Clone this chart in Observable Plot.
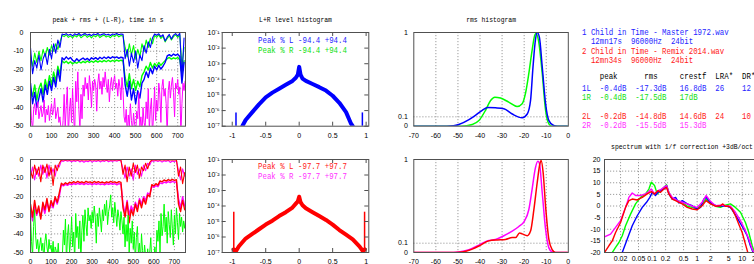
<!DOCTYPE html>
<html><head><meta charset="utf-8">
<script src="https://cdn.jsdelivr.net/npm/d3@7"></script>
<script src="https://cdn.jsdelivr.net/npm/@observablehq/plot@0.6"></script>
<style>
body{margin:0;background:#fff}
#chart{position:relative;width:754px;height:264px;overflow:hidden;background:#fff}
.p{position:absolute}
.txt{position:absolute;white-space:pre;font-family:"Liberation Mono",monospace;font-size:8.6px;line-height:10px;transform:scaleX(0.862);transform-origin:0 50%}
</style></head><body><div id="chart"></div>
<script>
// ---------- data ----------
const STEP = 10;      // seconds between peak / rms samples
const STEP_DIFF = 5;  // seconds between L-R samples
const timeTicksX = [0,100,200,300,400,500,600,700];
const timeTicksY = [0,-10,-20,-30,-40,-50];
const titles = ["peak + rms + (L-R), time in s","L+R level histogram","rms histogram","spectrum with 1/f correction +3dB/oct"];
const durations = [737, 754];

// file 1 (t = 0..730 s)
const peak1L = [-8,-22,-15,-19,-12,-20,-14,-11,-17,-9, -14,-6,-11,-4,-8,-0.8,-1.2,-0.6,-1.5,-0.9, -1.8,-0.7,-1.3,-0.5,-1.6,-1.0,-0.6,-1.4,-0.9,-1.7, -0.8,-1.2,-0.5,-1.5,-1.0,-0.7,-1.3,-0.9,-1.6,-0.8, -1.1,-0.5,-1.2,-0.8,-1.0,-14,-9,-18,-11,-16, -10,-19,-12,-15,-7,-11,-5,-8,-3,-0.8, -1.5,-0.7,-2.2,-1.2,-4.5,-2.5,-1.0,-3.5,-1.4,-0.6, -1.8,-0.5,-24,-3];
const peak1R = [-12,-18,-11,-16,-10,-15,-9,-13,-8,-12, -7,-10,-6,-9,-5,-1.5,-2.2,-1.2,-2.6,-1.8, -2.9,-1.5,-2.4,-1.2,-2.8,-1.9,-1.3,-2.6,-1.7,-2.9, -1.6,-2.3,-1.2,-2.7,-1.9,-1.4,-2.4,-1.8,-2.8,-1.5, -2.2,-1.1,-2.3,-1.6,-1.9,-8,-13,-6,-12,-7, -14,-9,-13,-6,-10,-4,-8,-3,-6,-1.5, -2.6,-1.3,-3.2,-2.0,-5.0,-3.2,-1.8,-4.0,-2.2,-1.3, -2.6,-1.4,-18,-8];
const rms1L = [-27,-38,-32,-40,-35,-30,-37,-28,-33,-26, -31,-24,-29,-20,-26,-13.5,-14.5,-13.0,-14.2,-13.3, -14.8,-15.5,-14.0,-15.2,-14.3,-13.6,-14.6,-13.8,-14.9,-13.5, -14.2,-13.4,-14.4,-13.2,-14.0,-13.1,-13.9,-13.0,-13.8,-12.9, -13.6,-13.0,-13.8,-13.2,-13.5,-28,-34,-26,-36,-30, -38,-31,-35,-27,-25,-21,-24,-19,-22,-18, -20,-17.5,-19.5,-18,-16,-12.5,-11.8,-12.6,-11.5,-12.2, -11.6,-12.8,-27,-16];
const rms1R = [-30,-34,-28,-36,-30,-27,-33,-25,-30,-23, -28,-21,-26,-18,-22,-15.0,-16.2,-15.3,-16.5,-15.6, -16.8,-15.9,-16.4,-15.5,-16.3,-15.4,-16.1,-15.2,-16.0,-15.3, -15.9,-15.0,-15.8,-15.1,-15.7,-14.9,-15.6,-14.8,-15.5,-14.9, -15.4,-14.7,-15.3,-14.8,-15.2,-24,-29,-22,-30,-25, -31,-26,-29,-23,-21,-18,-20,-16,-19,-16.5, -18,-16,-17.5,-16.2,-15,-14,-13.3,-14.2,-13.5,-14.0, -13.4,-14.5,-22,-15];
const diff1 = [-36,-47,-52,-41,-38,-44,-40,-37,-46,-42, -39,-45,-43,-36,-48,-41,-44,-39,-47,-42, -38,-44,-41,-35,-46,-43,-40,-48,-45,-52, -55,-47,-33,-51,-39,-29,-55,-42,-35,-48, -30,-44,-55,-26,-37,-21,-41,-52,-33,-46, -28,-34,-24,-30,-27,-36,-23,-29,-40,-26, -31,-25,-28,-42,-27,-22,-30,-26,-33,-24, -29,-21,-27,-32,-25,-37,-28,-24,-31,-26, -23,-30,-27,-34,-25,-29,-36,-24,-31,-45, -48,-41,-55,-44,-50,-38,-47,-53,-43,-49, -55,-42,-46,-32,-50,-45,-55,-40,-48,-51, -37,-46,-30,-52,-41,-35,-55,-44,-29,-47, -36,-42,-27,-33,-48,-29,-25,-34,-30,-38, -55,-31,-26,-35,-28,-24,-32,-45,-27,-30, -25,-33,-29,-55,-38,-27,-31,-26];

// file 2 (t = 0..750 s)
const peak2L = [-6,-10,-3,-8,-4,-12,-3,-7,-2.5,-9, -4,-14,-3,-6,-2,-0.2,-0.2,-0.2,-0.2,-0.2, -0.2,-0.2,-0.2,-0.2,-0.2,-0.2,-0.2,-0.2,-0.2,-0.2, -0.2,-0.2,-0.2,-0.2,-0.2,-0.2,-0.2,-0.2,-0.2,-0.2, -0.2,-0.2,-0.2,-0.2,-0.2,-8,-3,-12,-4,-9, -2,-7,-3,-10,-4,-6,-2,-5,-1.5,-0.2, -0.2,-0.2,-0.2,-0.2,-0.2,-0.2,-0.2,-0.2,-0.2,-0.2, -0.2,-0.2,-9,-4,-13,-7];
const peak2R = [-9,-4,-11,-5,-9,-3,-8,-4,-10,-3, -8,-5,-9,-3,-4,-0.6,-1.0,-0.4,-0.9,-0.5, -1.2,-0.6,-1.0,-0.4,-1.3,-0.7,-1.5,-0.8,-1.2,-0.5, -1.4,-0.7,-1.1,-0.5,-1.3,-0.6,-1.0,-0.4,-1.2,-0.6, -1.0,-0.5,-0.9,-0.4,-0.8,-5,-10,-4,-9,-5, -11,-3,-8,-5,-9,-3,-6,-2,-3,-0.6, -1.0,-0.5,-1.1,-0.6,-1.4,-0.7,-1.0,-0.5,-1.6,-0.8, -1.2,-0.6,-6,-11,-5,-9];
const rms2L = [-24,-31,-22,-29,-25,-32,-23,-27,-21,-28, -22,-25,-20,-23,-18,-12.8,-13.6,-12.5,-13.2,-12.2, -12.7,-11.9,-12.5,-11.8,-12.4,-12.0,-12.6,-11.7,-12.3,-12.0, -12.6,-11.8,-12.4,-11.9,-12.5,-12.1,-12.7,-12.0,-12.4,-11.8, -12.3,-12.0,-12.6,-11.9,-12.3,-26,-31,-23,-34,-27, -30,-24,-28,-22,-26,-21,-24,-19,-20,-13.5, -14.2,-13.0,-13.8,-11.5,-12.0,-11.0,-11.6,-10.8,-11.4,-10.7, -11.2,-10.9,-24,-28,-22,-27];
const rms2R = [-27,-33,-25,-30,-27,-31,-25,-29,-23,-27, -24,-26,-21,-24,-20,-13.5,-14.2,-13.4,-13.9,-13.1, -13.6,-12.9,-13.4,-12.8,-13.3,-12.9,-13.5,-12.8,-13.4,-13.0, -13.6,-12.9,-13.4,-12.9,-13.5,-13.1,-13.6,-13.0,-13.4,-12.9, -13.3,-13.0,-13.6,-13.0,-13.3,-24,-29,-22,-30,-25, -28,-23,-26,-21,-24,-20,-22,-18,-19,-14.5, -15.0,-14.0,-14.6,-12.6,-13.0,-12.2,-12.6,-11.9,-12.4,-11.8, -12.2,-12.0,-21,-26,-20,-25];
const diff2 = [-30,-44,-52,-36,-27,-41,-48,-43,-50,-46, -42,-49,-45,-55,-44,-40,-47,-51,-43,-48, -46,-52,-44,-55,-47,-49,-53,-45,-55,-55, -55,-52,-38,-46,-32,-55,-41,-35,-50,-44, -31,-47,-39,-55,-29,-42,-36,-48,-33,-55, -38,-30,-44,-27,-35,-41,-26,-33,-30,-37, -28,-34,-25,-31,-45,-29,-36,-26,-32,-39, -27,-33,-24,-30,-22,-35,-28,-25,-19,-31, -26,-34,-23,-29,-36,-27,-31,-38,-28,-33, -40,-31,-47,-35,-44,-30,-50,-37,-45,-33, -48,-39,-55,-42,-36,-51,-45,-55,-40,-49, -55,-46,-52,-55,-48,-55,-50,-42,-55,-53, -55,-47,-55,-38,-44,-33,-50,-29,-41,-36, -24,-39,-31,-45,-28,-35,-42,-27,-37,-46, -30,-40,-26,-34,-43,-29,-36,-31,-39,-33, -37,-32];

// L+R level histogram (sample value, log10 of share)
const histTicksX = [-1,-0.5,0,0.5,1];
const histDecades = [-1,-2,-3,-4,-5,-6,-7];
const histX1 = [-0.85,-0.8,-0.7,-0.6,-0.5,-0.4,-0.3,-0.2,-0.1,-0.05,-0.02,0,0.02,0.05,0.1,0.2,0.3,0.4,0.5,0.6,0.7,0.77,0.8];
const histE1 = [-7,-6.6,-6.1,-5.6,-5.15,-4.85,-4.6,-4.35,-4.1,-3.9,-3.7,-3.2,-3.7,-3.95,-4.1,-4.3,-4.5,-4.72,-5.05,-5.5,-6.1,-6.8,-7];
const histX2 = [-0.98,-0.95,-0.9,-0.8,-0.7,-0.6,-0.5,-0.4,-0.3,-0.2,-0.1,-0.05,-0.02,0,0.02,0.05,0.1,0.2,0.3,0.4,0.5,0.6,0.7,0.8,0.9,0.95,0.98];
const histE2 = [-6.8,-6.95,-6.6,-6.1,-5.8,-5.5,-5.2,-4.95,-4.65,-4.4,-4.1,-3.85,-3.7,-3.4,-3.75,-3.95,-4.15,-4.4,-4.65,-4.9,-5.2,-5.55,-5.85,-6.15,-6.6,-6.9,-6.8];
const peakPos1 = [-0.944, 0.944], peakLevel1 = -6.15;
const peakPos2 = [-0.977, 0.977], peakLevel2 = -4.4;
const histLabels1 = [["L",-94.4,94.4],["R",-94.4,94.4]];
const histLabels2 = [["L",-97.7,97.7],["R",-97.7,97.7]];

// rms histogram
const rmsTicksX = [-70,-60,-50,-40,-30,-20,-10,0];
const rmsTicksY = [0,0.1,1];
const rmsX1L = [-70,-55,-52,-49.6,-45,-42.4,-39,-36.5,-33,-29.2,-25.4,-20.9,-18.6,-17.1,-16,-14.9,-14.1,-13.1,-11.8,-10.3,-8.8,-6.6,-5,0];
const rmsY1L = [0,0,0.004,0.018,0.07,0.11,0.17,0.2,0.196,0.186,0.13,0.09,0.13,0.275,0.63,0.92,1.0,0.95,0.63,0.24,0.06,0.007,0,0];
const rmsX1R = [-70,-48.6,-43.5,-40.5,-37.5,-35.2,-33.3,-30.7,-27,-23.2,-20.9,-19.4,-17.9,-16.4,-15.2,-14.6,-13.4,-11.8,-10.3,-8.8,-7.3,0];
const rmsY1R = [0,0,0.018,0.06,0.17,0.275,0.31,0.30,0.257,0.21,0.24,0.35,0.56,0.81,0.97,0.99,0.9,0.56,0.17,0.025,0,0];
const rmsX2L = [-70,-51,-48.1,-43.5,-39.7,-36,-32.2,-28.5,-25.4,-23.9,-22.1,-20.9,-18.6,-17.1,-15.6,-14.1,-12.9,-12.3,-11.4,-10.3,-8.8,-7.3,-5.8,0];
const rmsY2L = [0,0,0.005,0.036,0.08,0.125,0.135,0.14,0.16,0.16,0.21,0.2,0.18,0.23,0.46,0.75,0.95,0.99,0.86,0.5,0.14,0.03,0,0];
const rmsX2R = [-70,-52,-49.6,-45,-40.5,-36.7,-33,-29.2,-25.4,-22.4,-20.1,-17.9,-16.4,-14.9,-13.8,-13.1,-11.8,-10.3,-8.8,-7.3,-5.5,0];
const rmsY2R = [0,0,0.005,0.03,0.08,0.125,0.14,0.18,0.23,0.28,0.33,0.46,0.68,0.91,0.98,0.96,0.64,0.25,0.05,0.007,0,0];

// spectrum (kHz, dB)
const specTicksX = [0.02,0.05,0.1,0.2,0.5,1,2,5,10,20];
const specTicksY = [20,15,10,5,0,-5,-10,-15,-20];
const specF1L = [0.018,0.0218,0.0282,0.0363,0.0469,0.0606,0.0754,0.0893,0.101,0.119,0.1345,0.154,0.1824,0.2094,0.2355,0.2805,0.332,0.3927,0.468,0.603,0.778,1.0,1.19,1.41,1.58,1.82,2.15,2.78,3.59,4.63,5.48,6.5,8.4,10.8,12.9,15.2,17.5,20];
const specD1L = [-24,-20,-14.2,-8.5,-4.2,-0.6,1.6,3.7,5.9,4.5,5.9,6.6,7.3,8.8,5.2,3,3.7,1.3,2.3,0.9,0.1,-1.3,-0.6,3,3.7,2.3,0.9,-0.1,0.1,-0.1,-0.6,-2.7,-6.3,-9.9,-12.8,-17.1,-20,-23];
const specF1R = [0.011,0.0131,0.0155,0.0184,0.0218,0.0258,0.0333,0.043,0.0556,0.0717,0.085,0.096,0.1135,0.130,0.154,0.1824,0.2094,0.2355,0.2805,0.361,0.468,0.603,0.778,1.0,1.29,1.58,1.98,2.55,3.29,4.25,5.48,7.08,9.16,11.8,14,16.7,18.8,21];
const specD1R = [-21,-20,-17.8,-15.7,-12.8,-8.5,-3.5,0.9,3.7,5.2,7.3,10.2,8.8,5.2,6.6,8,9.1,5.9,3,2.3,1.6,-0.1,-0.6,-1.3,0.9,3,1.3,-0.1,-0.6,0.4,0.9,-0.6,-2.7,-7.1,-11.4,-17.1,-20,-23];
const specF2L = [0.0088,0.0093,0.011,0.0131,0.0155,0.02,0.0258,0.0306,0.0363,0.0469,0.0606,0.0781,0.096,0.1135,0.1345,0.154,0.1824,0.2094,0.2355,0.2805,0.332,0.3927,0.468,0.603,0.778,1.0,1.29,1.58,1.98,2.55,3.29,3.71,4.25,5.03,5.97,7.08,8.4,10,11.8,13.3,15];
const specD2L = [-20,-19.3,-17.1,-15,-11.4,-7.1,-0.6,2.3,3,2.6,3.7,5.2,6.2,5.2,6.6,5.9,7.3,8,5.2,3,2.3,1.6,0.9,-0.6,-1.3,-1.6,0.1,2.3,0.9,-0.1,0.1,0.9,-0.1,-0.1,-1.3,-4.2,-7.8,-11.4,-16.4,-20,-23];
const specF2R = [0.0088,0.0093,0.012,0.0155,0.02,0.0258,0.0306,0.0363,0.043,0.0556,0.0717,0.085,0.096,0.1135,0.1345,0.154,0.1824,0.2094,0.2355,0.2805,0.361,0.468,0.603,0.778,1.0,1.29,1.58,1.98,2.55,3.29,4.25,5.48,7.08,9.16,11.8,14,16.7,18.1,20];
const specD2R = [-13.1,-13.1,-12.1,-9.2,-6.3,-0.6,3.7,5.6,4.5,4.5,5.2,6.2,7.3,5.2,6.6,7,8,8.8,5.9,3.7,2.3,1.6,0.9,-0.1,-0.6,1.6,4.5,2,0.1,0.4,0.1,-0.1,-2.7,-6.3,-10.6,-14.2,-18.6,-20,-22];

// info text
const fileNames = ["1 Child in Time - Master 1972.wav","2 Child in Time - Remix 2014.wav"];
const fileInfo = [["12mn17s","96000Hz","24bit"],["12mn34s","96000Hz","24bit"]];
const statHeader = ["peak","rms","crestf","LRA*","DR*"];
const statRows = [["1L","-0.4dB","-17.3dB","16.8dB","26","12"],["1R","-0.4dB","-17.5dB","17dB"],["2L","-0.2dB","-14.8dB","14.6dB","24","10"],["2R","-0.2dB","-15.5dB","15.3dB"]];

// ---------- drawing ----------
const BLUE="#0000ff", GREEN="#00ff00", RED="#ff0000", MAG="#ff00ff";
const TBLUE="#2424ff", TGREEN="#10e010", TRED="#ff1818", TMAG="#ff30ff";
const GRID = {stroke:"#9c9c9c", strokeOpacity:1, strokeWidth:1, strokeDasharray:"1.2,1.8"};
const FRAME = "#505050";
const STYLE = {background:"transparent", overflow:"visible", maxWidth:"none", fontFamily:'"Liberation Sans Narrow","Liberation Sans",sans-serif', fontSize:"7px", color:"black"};
const chart = document.getElementById("chart");
const str = d => String(d);
const SUP = {"-":"⁻","0":"⁰","1":"¹","2":"²","3":"³","4":"⁴","5":"⁵","6":"⁶","7":"⁷","8":"⁸","9":"⁹"};
const pow10 = d => "10" + String(Math.round(Math.log10(d))).split("").map(c => SUP[c]).join("");

function place(svg, left, top, w){
  const d = document.createElement("div");
  d.className = "p"; d.style.left = left+"px"; d.style.top = top+"px"; d.style.width = w+"px";
  d.appendChild(svg); chart.appendChild(d);
}
function titleMark(t, dy){
  return Plot.text([t], {frameAnchor:"top", dy, text:d=>d, fontFamily:'"Liberation Mono",monospace', fontSize:6.4, fill:"black"});
}
function addText(s, x, cy, color){
  const d = document.createElement("div");
  d.className = "txt"; d.textContent = s; d.style.left = x+"px"; d.style.top = (cy-5)+"px"; d.style.color = color;
  chart.appendChild(d);
}
const rows = (xs, ys) => xs.map((x,i) => ({x, y: ys[i]}));

// geometry of the two rows
const ROWS = [{top:0, h:145, mt:32, mb:19.3}, {top:132, h:132, mt:27, mb:12}];

function timePanel(r, tmax, series, title){
  const marks = [
    Plot.ruleX(timeTicksX.slice(1), {x:d=>d, ...GRID}),
    Plot.ruleY(timeTicksY.slice(1,-1), {y:d=>d, ...GRID}),
    ...series.map(s => Plot.lineY(s.v, {x:(d,i)=>i*s.step, y:d=>d, stroke:s.c, strokeWidth:s.w, clip:true})),
    Plot.frame({stroke:FRAME})
  ];
  if (title) marks.push(titleMark(title, -15.3));
  place(Plot.plot({width:195, height:r.h, marginLeft:30, marginRight:10, marginTop:r.mt, marginBottom:r.mb,
    x:{domain:[0,tmax], ticks:timeTicksX, tickSize:0, tickPadding:7, tickFormat:str, label:null},
    y:{domain:[-50,0], ticks:timeTicksY, tickSize:0, tickPadding:7, tickFormat:str, label:null},
    style:STYLE, marks}), 0, r.top, 195);
}
function histPanel(r, hx, he, color, spikes, level, title){
  const H = r.h - r.mt - r.mb, W = 180 - 26.7 - 6.7;
  const marks = [
    Plot.line(hx.map((x,i)=>({x, p:10**he[i]})), {x:"x", y:"p", stroke:color, strokeWidth:4, clip:true}),
    Plot.ruleX(spikes, {x:d=>d, y1:1e-7, y2:10**level, stroke:color, strokeWidth:1.5}),
    Plot.tickX(histTicksX, {x:d=>d, stroke:FRAME, insetTop:H-4}),
    Plot.tickX(histTicksX, {x:d=>d, stroke:FRAME, insetBottom:H-4}),
    Plot.tickY(histDecades.map(e=>10**e), {y:d=>d, stroke:FRAME, insetRight:W-4}),
    Plot.tickY(histDecades.map(e=>10**e), {y:d=>d, stroke:FRAME, insetLeft:W-4}),
    Plot.frame({stroke:FRAME})
  ];
  if (title) marks.push(titleMark(title, -15.3));
  place(Plot.plot({width:180, height:r.h, marginLeft:26.7, marginRight:6.7, marginTop:r.mt, marginBottom:r.mb,
    x:{domain:[-1.15,1.04], ticks:histTicksX, tickSize:0, tickPadding:7, tickFormat:str, label:null},
    y:{type:"log", domain:[1e-7,1e-1], ticks:histDecades.map(e=>10**e), tickSize:0, tickPadding:2.5, tickFormat:pow10, label:null},
    style:STYLE, marks}), 195, r.top, 180);
}
function rmsPanel(r, series, title){
  const marks = [
    Plot.ruleX(rmsTicksX.slice(1,-1), {x:d=>d, ...GRID}),
    Plot.ruleY([0.1], {y:d=>d, ...GRID}),
    ...series.map(s => Plot.line(rows(s.x, s.y), {x:"x", y:"y", stroke:s.c, strokeWidth:1.5, curve:"monotone-x", clip:true})),
    Plot.frame({stroke:FRAME})
  ];
  if (title) marks.push(titleMark(title, -15.3));
  place(Plot.plot({width:200, height:r.h, marginLeft:38.3, marginRight:7.2, marginTop:r.mt, marginBottom:r.mb,
    x:{domain:[-70,0], ticks:rmsTicksX, tickSize:0, tickPadding:7, tickFormat:str, label:null},
    y:{domain:[0,1], ticks:rmsTicksY, tickSize:0, tickPadding:6, tickFormat:str, label:null},
    style:STYLE, marks}), 375, r.top, 200);
}

// top row
timePanel(ROWS[0], durations[0], [
  {v:peak1R,c:GREEN,step:STEP,w:1.1},{v:rms1R,c:GREEN,step:STEP,w:1.4},
  {v:peak1L,c:BLUE,step:STEP,w:1.1},{v:rms1L,c:BLUE,step:STEP,w:1.4},
  {v:diff1,c:MAG,step:STEP_DIFF,w:1}], titles[0]);
histPanel(ROWS[0], histX1, histE1, BLUE, peakPos1, peakLevel1, titles[1]);
rmsPanel(ROWS[0], [{x:rmsX1R,y:rmsY1R,c:GREEN},{x:rmsX1L,y:rmsY1L,c:BLUE}], titles[2]);
// bottom row
timePanel(ROWS[1], durations[1], [
  {v:peak2R,c:MAG,step:STEP,w:1.1},{v:rms2R,c:MAG,step:STEP,w:1.4},
  {v:peak2L,c:RED,step:STEP,w:1.1},{v:rms2L,c:RED,step:STEP,w:1.4},
  {v:diff2,c:GREEN,step:STEP_DIFF,w:1}], null);
histPanel(ROWS[1], histX2, histE2, RED, peakPos2, peakLevel2, null);
rmsPanel(ROWS[1], [{x:rmsX2R,y:rmsY2R,c:MAG},{x:rmsX2L,y:rmsY2L,c:RED}], null);

// spectrum
{
  const r = ROWS[1];
  const series = [{x:specF1R,y:specD1R,c:GREEN},{x:specF1L,y:specD1L,c:BLUE},{x:specF2R,y:specD2R,c:MAG},{x:specF2L,y:specD2L,c:RED}];
  place(Plot.plot({width:210, height:r.h, marginLeft:44, marginRight:11, marginTop:r.mt, marginBottom:r.mb,
    x:{type:"log", domain:[0.0088,24.2], axis:null},
    y:{domain:[-20,20], ticks:specTicksY, tickSize:0, tickPadding:4, tickFormat:str, label:null},
    style:STYLE,
    marks:[
      Plot.ruleX(specTicksX, {x:d=>d, ...GRID}),
      Plot.ruleY(specTicksY.slice(1,-1), {y:d=>d, ...GRID}),
      ...series.map(s => Plot.line(rows(s.x, s.y), {x:"x", y:"y", stroke:s.c, strokeWidth:1.4, clip:true})),
      Plot.frame({stroke:FRAME}),
      Plot.text(specTicksX, {x:d=>d, text:str, frameAnchor:"bottom", dy:8.3, fill:"black"}),
      titleMark(titles[3], -15)
    ]}), 560, r.top, 210);
}

// histogram peak labels
histLabels1.forEach((h,i) => addText(`Peak % ${h[0]} ${h[1]} +${h[2]}`, 258.3, 41.3 + i*9.7, i ? TGREEN : TBLUE));
histLabels2.forEach((h,i) => addText(`Peak % ${h[0]} ${h[1]} +${h[2]}`, 258.3, 167 + i*10, i ? TMAG : TRED));

// info block
const fileColors = [TBLUE, TRED];
fileNames.forEach((n,i) => {
  addText(n, 581.7, 33.3 + i*18.4, fileColors[i]);
  addText("  " + fileInfo[i].join("  "), 581.7, 42.3 + i*18.4, fileColors[i]);
});
function cols(cells, starts){ let s = ""; cells.forEach((c,i) => { s = s.padEnd(starts[i]) + c; }); return s; }
addText(cols(statHeader, [4,14,22,30,36]), 581.7, 77.3, "#000");
const rowColors = [TBLUE, TGREEN, TRED, TMAG];
const rowY = [89, 98.3, 116.7, 126];
statRows.forEach((r,i) => addText(cols(r, [0,4,12,22,30,36]), 581.7, rowY[i], rowColors[i]));
</script></body></html>
